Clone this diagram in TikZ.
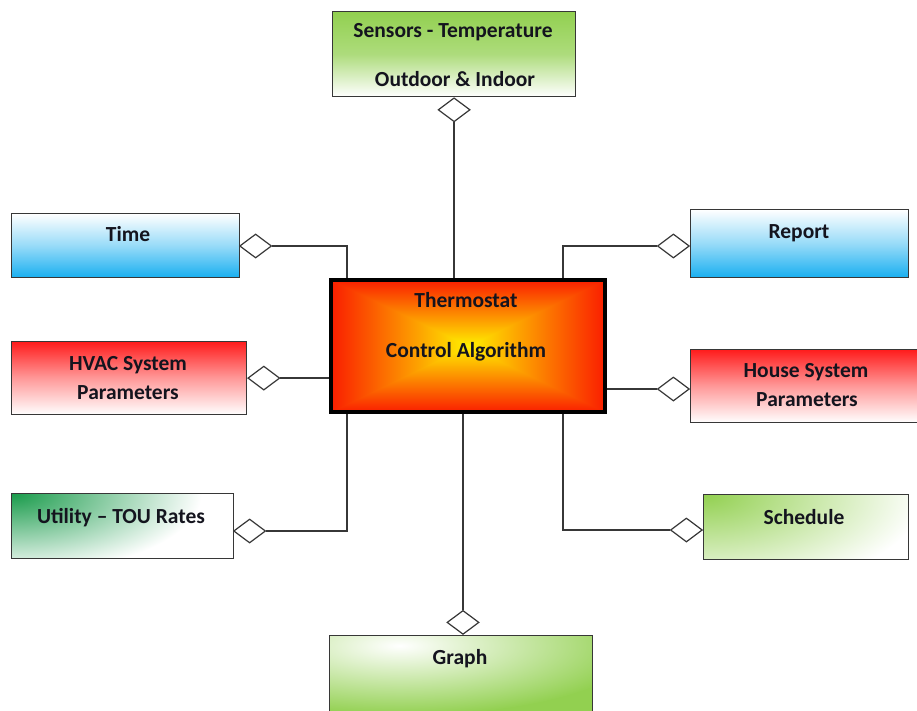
\documentclass[tikz,border=0pt]{standalone}
\usepackage{fontspec}
\setmainfont{Carlito}
\usetikzlibrary{shapes.geometric,calc,backgrounds}

\definecolor{lgreen}{RGB}{146,208,80}
\definecolor{dgreen}{RGB}{25,155,75}
\definecolor{sky}{RGB}{25,175,240}
\definecolor{hot}{RGB}{255,28,28}
\definecolor{edgered}{RGB}{250,30,0}
\definecolor{coreyel}{RGB}{255,240,0}
\definecolor{linegray}{RGB}{55,55,55}
\definecolor{ink}{RGB}{20,20,30}

\begin{document}
\begin{tikzpicture}[x=1pt,y=-1pt,
  box/.style={draw=linegray, line width=1.2pt, rectangle, inner sep=0pt, anchor=north west},
  dia/.style={diamond, draw=linegray, fill=white, line width=1.2pt, inner sep=0pt,
              minimum width=32pt, minimum height=24pt},
  link/.style={draw=linegray, line width=1.4pt},
  lbl/.style={font=\fontsize{21.5}{24}\selectfont\bfseries, text=ink, inner sep=0pt, anchor=base},
  vfade/.style n args={3}{path picture={\shade[top color=#1, bottom color=#2, middle color=#3]
      (path picture bounding box.north west) rectangle (path picture bounding box.south east);}},
  cornerfade/.style n args={3}{path picture={
      \fill[white] (path picture bounding box.north west) rectangle (path picture bounding box.south east);
      \shade[inner color=#1, outer color=white] (path picture bounding box.north west) ellipse (#2 and #3);}}
]
\useasboundingbox (0,0) rectangle (917,711);

% central block with a rectangular yellow-to-red gradient
\node[box, draw=black, line width=4pt, minimum width=274pt, minimum height=132pt,
  path picture={
    \coordinate (pNW) at (path picture bounding box.north west);
    \coordinate (pNE) at (path picture bounding box.north east);
    \coordinate (pSW) at (path picture bounding box.south west);
    \coordinate (pSE) at (path picture bounding box.south east);
    \coordinate (pC) at (path picture bounding box.center);
    \shade[left color=edgered, right color=coreyel] (pNW) rectangle ($(pC |- pSW)+(1,0)$);
    \shade[left color=coreyel, right color=edgered] (pC |- pNE) rectangle (pSE);
    \begin{scope}\clip (pNW) -- (pNE) -- (pC) -- cycle;
      \shade[top color=edgered, bottom color=coreyel] (pNW) rectangle (pC -| pNE);\end{scope}
    \begin{scope}\clip (pSW) -- (pSE) -- (pC) -- cycle;
      \shade[top color=coreyel, bottom color=edgered] (pC -| pSW) rectangle (pSE);\end{scope}
  }] (central) at (329,278) {};

% surrounding blocks
\node[box, minimum width=243pt, minimum height=85pt, vfade={lgreen}{white}{lgreen!75!white}] (sensors) at (332,11) {};
\node[box, minimum width=228pt, minimum height=64pt, vfade={white}{sky}{sky!45!white}] (time) at (11,213) {};
\node[box, minimum width=235pt, minimum height=73pt, vfade={hot}{white}{hot!45!white}] (hvac) at (11,341) {};
\node[box, minimum width=222pt, minimum height=65pt, cornerfade={dgreen}{190pt}{80pt}] (util) at (11,493) {};
\node[box, minimum width=218pt, minimum height=68pt, vfade={white}{sky}{sky!45!white}] (report) at (690,209) {};
\node[box, minimum width=232pt, minimum height=73pt, vfade={hot}{white}{hot!45!white}] (house) at (690,349) {};
\node[box, minimum width=205pt, minimum height=65pt, cornerfade={lgreen}{220pt}{100pt}] (sched) at (703,494) {};
\node[box, minimum width=263pt, minimum height=82pt,
  path picture={
    \fill[lgreen] (path picture bounding box.north west) rectangle (path picture bounding box.south east);
    \shade[inner color=white, outer color=lgreen]
      ($(path picture bounding box.north west)+(70,10)$) ellipse (240pt and 70pt);
  }] (graph) at (329,635) {};

% aggregation diamonds
\node[dia, anchor=north] (dsen) at (sensors.south) {};
\node[dia, anchor=west] (dtime) at (239,246) {};
\node[dia, anchor=west] (dhvac) at (hvac.east) {};
\node[dia, anchor=west] (dutil) at (233,531) {};
\node[dia, anchor=east] (drep) at (690,246) {};
\node[dia, anchor=east] (dhouse) at (690,389) {};
\node[dia, anchor=east] (dsch) at (703,530) {};
\node[dia, anchor=south] (dgraph) at (463,635) {};

% attachment points on the central block
\coordinate (cTL) at ($(central.north west)+(18,0)$);
\coordinate (cTR) at ($(central.north west)+(234,0)$);
\coordinate (cBL) at ($(central.south west)+(18,0)$);
\coordinate (cBR) at ($(central.south west)+(234,0)$);

\begin{scope}[on background layer]
  \draw[link] (dsen.south) -- (dsen.south |- central.north);
  \draw[link] (dtime.east) -| (cTL);
  \draw[link] (dhvac.east) -- (dhvac.east -| central.west);
  \draw[link] (dutil.east) -| (cBL);
  \draw[link] (drep.west) -| (cTR);
  \draw[link] (dhouse.west) -- (dhouse.west -| central.east);
  \draw[link] (dsch.west) -| (cBR);
  \draw[link] (dgraph.north) -- (dgraph.north |- central.south);
\end{scope}

% labels
\node[lbl] (tSen1) at (453,38) {Sensors - Temperature};
\node[lbl] (tSen2) at (455,87) {Outdoor \& Indoor};
\node[lbl] (tCen1) at (466,307) {Thermostat};
\node[lbl] (tCen2) at (466,357) {Control Algorithm};
\node[lbl] (tTime) at (128,241) {Time};
\node[lbl] (tHvac1) at (128,370) {HVAC System};
\node[lbl] (tHvac2) at (128,399) {Parameters};
\node[lbl] (tUtil) at (121,523) {Utility – TOU Rates};
\node[lbl] (tRep) at (799,239) {Report};
\node[lbl] (tHouse1) at (806,377) {House System};
\node[lbl] (tHouse2) at (807,406) {Parameters};
\node[lbl] (tSch) at (804,524) {Schedule};
\node[lbl] (tGraph) at (460,664) {Graph};
\end{tikzpicture}
\end{document}
